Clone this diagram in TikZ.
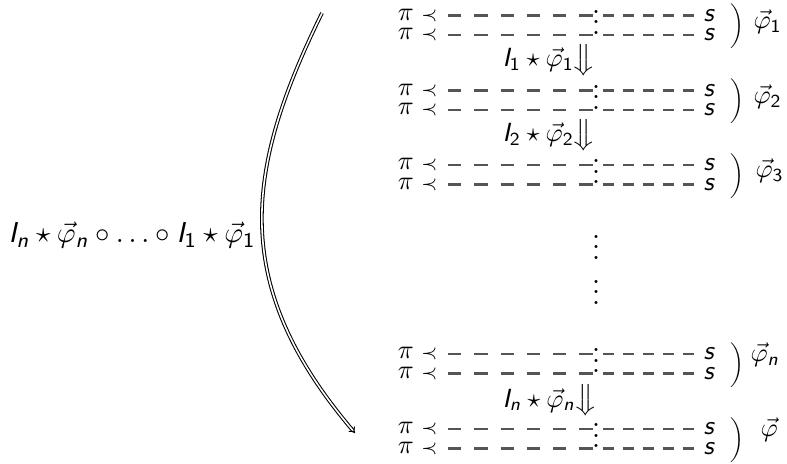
\documentclass[11pt,tikz,border=0pt]{standalone}
\usepackage{amsmath}
\usepackage{graphicx}
\usetikzlibrary{arrows.meta}
\definecolor{dashgray}{RGB}{85,85,85}
%sans letters and digits in math
\DeclareSymbolFont{sfslanted}{OT1}{cmss}{m}{sl}
\DeclareSymbolFont{sfupright}{OT1}{cmss}{m}{n}
\DeclareMathSymbol{I}{\mathalpha}{sfslanted}{`I}
\DeclareMathSymbol{n}{\mathalpha}{sfslanted}{`n}
\DeclareMathSymbol{s}{\mathalpha}{sfslanted}{`s}
\DeclareMathSymbol{1}{\mathalpha}{sfupright}{`1}
\DeclareMathSymbol{2}{\mathalpha}{sfupright}{`2}
\DeclareMathSymbol{3}{\mathalpha}{sfupright}{`3}
\tikzset{
 txt/.style={inner sep=0pt},
 rowtxt/.style={inner sep=0pt,font=\small},
 leftdash/.style={color=dashgray,line width=0.8pt,dash pattern=on 5.1pt off 4.9pt},
 rightdash/.style={color=dashgray,line width=0.8pt,dash pattern=on 4.3pt off 3.3pt},
}

\begin{document}
\begin{tikzpicture}[x=0.381pt,y=-0.381pt]
\useasboundingbox (0,0) rectangle (787,463);

%rows of each group
\foreach \g/\ya/\yb/\lab/\lx/\dy in {1/15.5/35/{\vec{\varphi}_1}/753/3,
  2/90.5/110/{\vec{\varphi}_2}/753/3, 3/165/184.5/{\vec{\varphi}_3}/755/3,
  4/354/373.5/{\vec{\varphi}_n}/750/-2, 5/429/448.5/{\vec{\varphi}}/760/-2}{
 \foreach \k/\yy in {a/\ya,b/\yb}{
  \node[rowtxt,anchor=east] (pi\g\k) at (438,\yy) {$\pi\mathrel{\scriptstyle\prec}$};
  \node[rowtxt,anchor=west] (s\g\k) at (703,\yy) {$s$};
  \coordinate (dl\g\k) at (448,\yy);
  \coordinate (cl\g\k) at (593,\yy);
  \coordinate (cr\g\k) at (603,\yy);
  \coordinate (dr\g\k) at (697,\yy);
  \draw[leftdash] (dl\g\k) -- (cl\g\k);
  \draw[rightdash] (cr\g\k) -- (dr\g\k);
 }
 \node[txt,anchor=base] (vd\g) at (596,\yb-0.6) {$\vdots$};
 \node[txt] (par\g) at (737.5,{(\ya+\yb)/2+1}) {\scalebox{0.65}{$\bigg)$}};
 \node[txt,font=\small,anchor=base west] (phi\g) at (\lx,{(\ya+\yb)/2+\dy}) {$\lab$};
}

%steps between the groups
\node[txt,font=\small,anchor=base west] (st1) at (502,67) {$I_1\star\vec{\varphi}_1\big\Downarrow$};
\node[txt,font=\small,anchor=base west] (st2) at (502,142) {$I_2\star\vec{\varphi}_2\big\Downarrow$};
\node[txt,font=\small,anchor=base west] (stn) at (502,407) {$I_n\star\vec{\varphi}_n\big\Downarrow$};

%gap
\node[txt,anchor=base] (gap1) at (596,259.4) {$\vdots$};
\node[txt,anchor=base] (gap2) at (596,304.4) {$\vdots$};

%composition
\node[txt,anchor=base west] (comp) at (8,243) {$I_n\star\vec{\varphi}_n\circ\ldots\circ I_1\star\vec{\varphi}_1$};
\coordinate (arrS) at (322,13);
\coordinate (arrE) at (355,433);
\draw[double,-{Implies[scale=3.5]}] (arrS) .. controls (246,168) and (227.5,283) .. (arrE);

\end{tikzpicture}
\end{document}
